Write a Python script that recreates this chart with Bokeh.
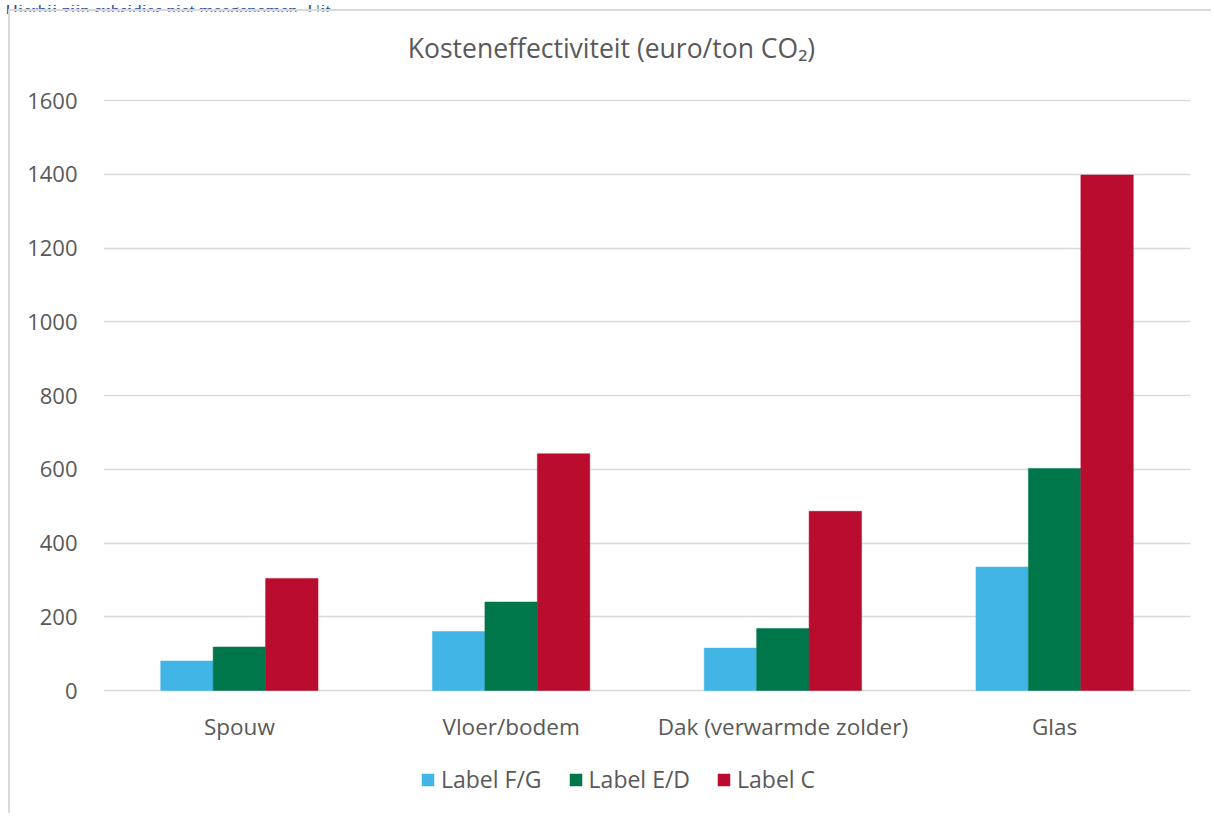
from bokeh.plotting import figure
from bokeh.models import (FactorRange, ColumnDataSource, FixedTicker, Legend,
                          LegendItem, Label, Range1d, Div)
from bokeh.layouts import column
from bokeh.transform import dodge
from bokeh.embed import file_html
from bokeh.resources import INLINE

# ---- data ----
categories = ["Spouw", "Vloer/bodem", "Dak (verwarmde zolder)", "Glas"]
series_names = ["Label F/G", "Label E/D", "Label C"]
label_fg = [80, 160, 115, 335]
label_ed = [118, 240, 168, 602]
label_c = [304, 642, 486, 1398]
y_ticks = [0, 200, 400, 600, 800, 1000, 1200, 1400, 1600]
title_text = "Kosteneffectiviteit (euro/ton CO\u2082)"
note_text = "Hierbij zijn subsidies niet meegenomen. Uit"

colors = ["#41B6E6", "#00774A", "#BA0C2F"]
FONT = "Open Sans"
TXT = "#595959"
GRID = "#D9D9D9"

# ---- layout (pixels, relative to the canvas) ----
W, H = 1203, 804
min_left, min_right, min_top, min_bottom = 93, 23, 9, 0
frame_h = H - min_top - min_bottom
px_top = 80      # frame top -> 1600 gridline
px_bottom = 125  # zero line -> frame bottom
y_max_tick = 1600
units_per_px = y_max_tick / (frame_h - px_top - px_bottom)
y_end = y_max_tick + px_top * units_per_px
y_start = -px_bottom * units_per_px

source = ColumnDataSource(dict(cat=categories, fg=label_fg, ed=label_ed, c=label_c))

p = figure(x_range=FactorRange(*categories), y_range=Range1d(y_start, y_end),
           width=W, height=H, output_backend="svg", toolbar_location=None,
           min_border_left=min_left, min_border_right=min_right,
           min_border_top=min_top, min_border_bottom=min_bottom)
p.styles = {"margin-left": "8px", "margin-top": "9px",
            "border-left": "2px solid #D9D9D9", "border-top": "2px solid #D9D9D9"}
p.outline_line_color = None
p.background_fill_color = "white"
p.border_fill_color = "white"

bw = 0.193
offsets = [-bw, 0.0, bw]
fields = ["fg", "ed", "c"]
renderers = []
for off, f, col in zip(offsets, fields, colors):
    r = p.vbar(x=dodge("cat", off, range=p.x_range), top=f, width=bw, source=source,
               fill_color=col, line_color=col, line_width=0.5)
    renderers.append(r)

# axes
p.yaxis.ticker = FixedTicker(ticks=y_ticks)
p.yaxis.axis_line_color = None
p.yaxis.major_tick_line_color = None
p.yaxis.minor_tick_line_color = None
p.yaxis.major_tick_out = 0
p.yaxis.major_label_standoff = 26
p.yaxis.major_label_text_font = FONT
p.yaxis.major_label_text_font_size = "22px"
p.yaxis.major_label_text_color = TXT

p.xaxis.fixed_location = 0
p.xaxis.axis_line_color = None
p.xaxis.major_tick_line_color = None
p.xaxis.minor_tick_line_color = None
p.xaxis.major_tick_out = 0
p.xaxis.major_tick_in = 0
p.xaxis.major_label_standoff = 20
p.xaxis.major_label_text_font = FONT
p.xaxis.major_label_text_font_size = "22.5px"
p.xaxis.major_label_text_color = TXT

p.xgrid.grid_line_color = None
p.ygrid.grid_line_color = GRID
p.ygrid.grid_line_width = 1.5

# title (inside the frame, above the 1600 line)
title = Label(x=508, y=frame_h - 27, x_units="screen", y_units="screen", text=title_text,
              text_align="center", text_baseline="middle", text_font=FONT,
              text_font_size="26.5px", text_color=TXT)
p.add_layout(title)

# legend (inside the frame, below the category labels)
legend = Legend(items=[LegendItem(label=n, renderers=[r]) for n, r in zip(series_names, renderers)],
                orientation="horizontal", location=(317, 20),
                glyph_width=15, glyph_height=15, label_standoff=6, spacing=26,
                padding=0, margin=0, border_line_color=None, background_fill_alpha=0,
                label_text_font=FONT, label_text_font_size="23px", label_text_color=TXT,
                label_height=15)
p.add_layout(legend)

note = Div(text=('<div style="margin-top:-12px; line-height:17px; white-space:nowrap; '
                 'font-family:\'Liberation Serif\'; font-size:18.5px; color:#2F5496;">'
                 + note_text + '</div>'),
           width=700, height=9,
           styles={"position": "absolute", "left": "0px", "top": "0px", "overflow": "hidden"})

layout = column(note, p, spacing=0)
open("out.html", "w").write(file_html(layout, INLINE))
